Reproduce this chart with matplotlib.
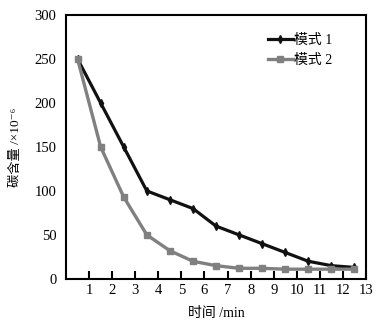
import matplotlib
matplotlib.use("Agg")
import matplotlib.pyplot as plt

x = [0.5, 1.5, 2.5, 3.5, 4.5, 5.5, 6.5, 7.5, 8.5, 9.5, 10.5, 11.5, 12.5]
mode1 = [250, 200, 150, 100, 90, 80, 60, 50, 40, 30, 20, 15, 13]
mode2 = [250, 150, 93, 50, 32, 20, 15, 12, 12, 11, 11, 11, 11]
xticks = list(range(1, 14))
yticks = [0, 50, 100, 150, 200, 250, 300]

fam = ['Liberation Serif', 'Noto Sans CJK SC', 'DejaVu Sans']
plt.rcParams['font.family'] = fam

fig = plt.figure(figsize=(3.91, 3.22), dpi=100)
ax = fig.add_axes([0.169, 0.134, 0.767, 0.819])
ax.plot(x, mode1, color='#111111', lw=2.3, marker='d', ms=4, label='模式 1')
ax.plot(x, mode2, color='#808080', lw=2.4, marker='s', ms=5, label='模式 2')
ax.set_xlim(0, 13)
ax.set_ylim(0, 300)
ax.set_xticks(xticks)
ax.set_yticks(yticks)
ax.tick_params(axis='x', direction='in', length=6, width=1.5, labelsize=10.5, pad=4)
ax.tick_params(axis='y', length=0, labelsize=10.5, pad=7)
for s in ax.spines.values():
    s.set_linewidth(1.5)
ax.set_xlabel('时间 /min', fontsize=10, labelpad=7)
ax.set_ylabel('碳含量 /×10⁻⁶', fontsize=9.5, labelpad=9)
leg = ax.legend(loc='upper right', bbox_to_anchor=(0.93, 0.975), frameon=False, fontsize=10,
                handlelength=1.8, handletextpad=0.1, labelspacing=0.45)
fig.savefig('out.png', dpi=100)
